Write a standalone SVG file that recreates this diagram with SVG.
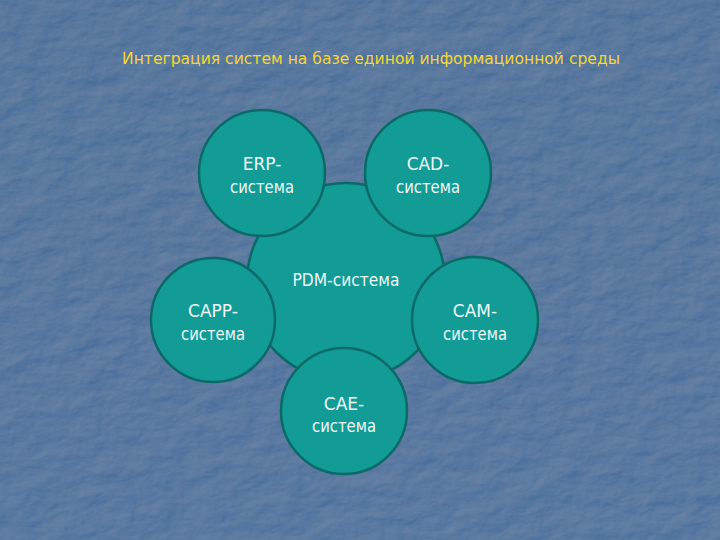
<svg xmlns="http://www.w3.org/2000/svg" width="720" height="540" viewBox="0 0 720 540">
  <defs>
    <filter id="stucco" x="0" y="0" width="100%" height="100%">
      <feTurbulence type="fractalNoise" baseFrequency="0.03 0.05" numOctaves="4" seed="7" result="n"/>
      <feDiffuseLighting in="n" surfaceScale="1.6" lighting-color="#ffffff" result="l">
        <feDistantLight azimuth="225" elevation="55"/>
      </feDiffuseLighting>
      <feColorMatrix in="l" type="matrix" values="0 0 0 0 1  0 0 0 0 1  0 0 0 0 1  0.3 0 0 0 -0.21" result="hl"/>
      <feColorMatrix in="l" type="matrix" values="0 0 0 0 0.15  0 0 0 0 0.25  0 0 0 0 0.4  -0.35 0 0 0 0.25" result="sh"/>
      <feMerge>
        <feMergeNode in="SourceGraphic"/>
        <feMergeNode in="sh"/>
        <feMergeNode in="hl"/>
      </feMerge>
    </filter>
    <linearGradient id="bg" x1="0" y1="0" x2="0" y2="1">
      <stop offset="0" stop-color="#4a6e99"/>
      <stop offset="1" stop-color="#4c719c"/>
    </linearGradient>
  </defs>
  <style>
    .node circle { fill: #139b96; stroke: #0b6a68; stroke-width: 2.5; }
    .node text { fill: #eef8f8; font-family: "DejaVu Sans", Verdana, sans-serif; font-size: 17px; text-anchor: middle; }
    .title { fill: #f3d634; font-family: "DejaVu Sans", Verdana, sans-serif; font-size: 15px; }
  </style>
  <rect width="720" height="540" fill="url(#bg)" filter="url(#stucco)"/>
  <text class="title" x="122" y="64" textLength="498" lengthAdjust="spacingAndGlyphs">Интеграция систем на базе единой информационной среды</text>
  <g id="pdm" class="node">
    <circle cx="346" cy="282" r="99"/>
    <text x="346" y="286" textLength="107" lengthAdjust="spacingAndGlyphs">PDM-система</text>
  </g>
  <g id="erp" class="node">
    <circle cx="262" cy="173" r="63"/>
    <text x="262" y="170">ERP-</text>
    <text x="262" y="193" textLength="64" lengthAdjust="spacingAndGlyphs">система</text>
  </g>
  <g id="cad" class="node">
    <circle cx="428" cy="173" r="63"/>
    <text x="428" y="170">CAD-</text>
    <text x="428" y="193" textLength="64" lengthAdjust="spacingAndGlyphs">система</text>
  </g>
  <g id="capp" class="node">
    <circle cx="213" cy="320" r="62"/>
    <text x="213" y="317">CAPP-</text>
    <text x="213" y="340" textLength="64" lengthAdjust="spacingAndGlyphs">система</text>
  </g>
  <g id="cam" class="node">
    <circle cx="475" cy="320" r="63"/>
    <text x="475" y="317">CAM-</text>
    <text x="475" y="340" textLength="64" lengthAdjust="spacingAndGlyphs">система</text>
  </g>
  <g id="cae" class="node">
    <circle cx="344" cy="411" r="63"/>
    <text x="344" y="410">CAE-</text>
    <text x="344" y="432" textLength="64" lengthAdjust="spacingAndGlyphs">система</text>
  </g>
  <g id="connectors"/>
</svg>
